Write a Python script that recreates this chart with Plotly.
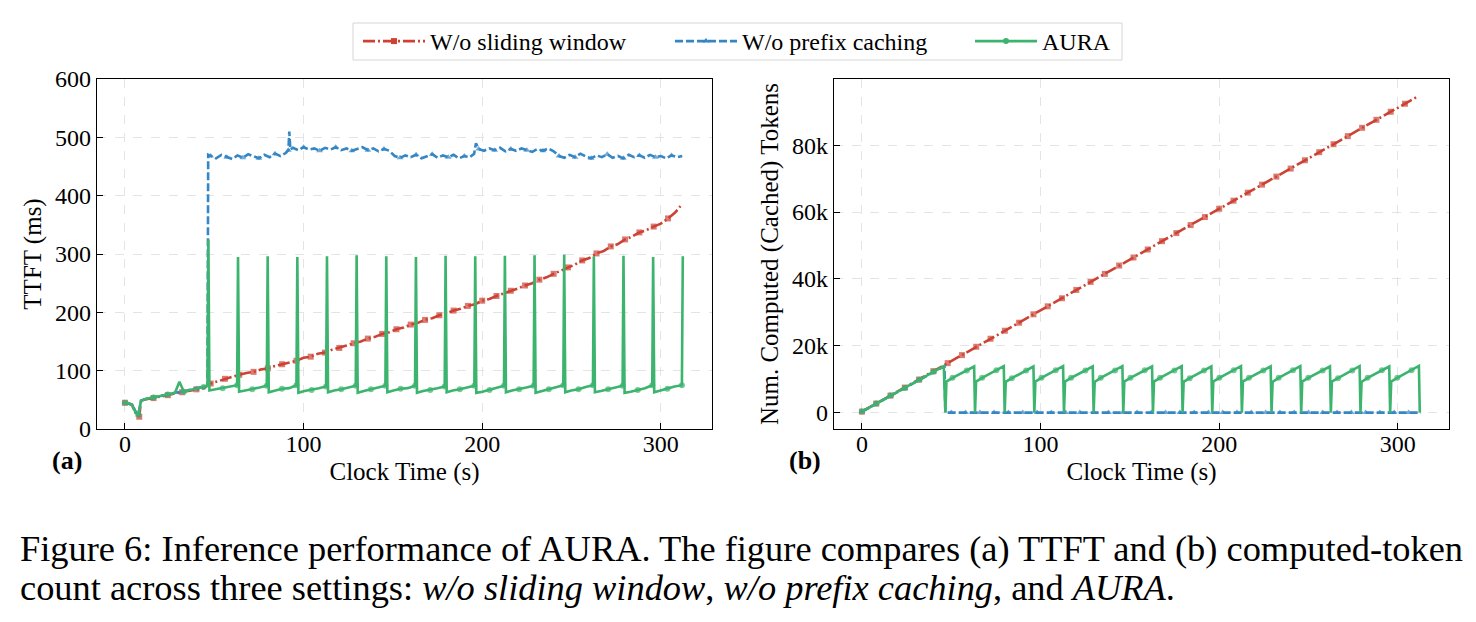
import plotly.graph_objects as go

# ---------------- data ----------------
# (a) TTFT (ms)
red_ttft_t = [0, 2, 4, 6, 8, 9, 12, 16, 20, 24, 28, 32, 36, 40, 44, 48, 52, 56, 60, 64, 68, 72, 76, 80,
              84, 88, 92, 96, 100, 104, 108, 112, 116, 120, 124, 128, 132, 136, 140, 144, 148, 152, 156,
              160, 164, 168, 172, 176, 180, 184, 188, 192, 196, 200, 204, 208, 212, 216, 220, 224, 228,
              232, 236, 240, 244, 248, 252, 256, 260, 264, 268, 272, 276, 280, 284, 288, 292, 296, 300,
              304, 308, 311]
red_ttft_v = [45, 44, 41, 27, 21, 49, 51, 53, 56, 58, 61, 63, 66, 68, 70, 78, 82, 86, 90, 93, 96, 98, 102, 104,
              108, 111, 115, 117, 122, 124, 129, 131, 136, 139, 143, 147, 150, 155, 158, 163, 166, 171, 174,
              179, 182, 187, 190, 195, 198, 203, 206, 211, 214, 220, 223, 228, 232, 237, 241, 246, 250,
              256, 260, 266, 271, 277, 282, 289, 293, 301, 305, 313, 317, 325, 330, 337, 341, 347, 352,
              361, 371, 382]

blue_ttft_t = [0, 2, 4, 6, 7.5, 9, 12, 16, 20, 24, 28, 32, 36, 40, 44, 46.2, 46.6,
               48, 51, 54, 57, 60, 63, 66, 69, 72, 75, 78, 81, 84, 87, 90, 91.5, 92, 92.6, 94, 97,
               100, 103, 106, 109, 112, 115, 118, 121, 124, 127, 130, 133, 136, 139, 142, 145, 148,
               151, 154, 157, 160, 163, 166, 169, 172, 175, 178, 181, 184, 187, 190, 193, 195.5, 196.5,
               198, 201, 204, 207, 210, 213, 216, 219, 222, 225, 228, 231, 234, 237, 240, 243, 246,
               249, 252, 255, 258, 261, 264, 267, 270, 273, 276, 279, 282, 285, 288, 291, 294, 297,
               300, 303, 306, 309, 312]
blue_ttft_v = [45, 44, 42, 30, 24, 49, 52, 54, 57, 59, 62, 64, 67, 69, 72, 74, 470,
               468, 464, 470, 466, 463, 469, 465, 471, 467, 464, 470, 466, 472, 468, 473, 478, 510, 479, 482, 478,
               483, 479, 481, 477, 482, 479, 483, 478, 481, 477, 480, 483, 478, 481, 476, 480, 477,
               468, 465, 469, 466, 470, 464, 468, 471, 465, 469, 466, 470, 464, 468, 466, 472, 490,
               480, 477, 481, 478, 482, 476, 480, 477, 481, 478, 475, 480, 477, 481, 476, 468, 465,
               470, 466, 472, 467, 464, 469, 466, 471, 465, 468, 464, 470, 466, 469, 465, 470, 466,
               468, 464, 469, 466, 468]

aura_ttft_t = [0, 2, 4, 6, 7.5, 9, 12, 16, 20, 24, 28, 30.5, 33, 36, 40, 44, 46.2,
               46.7, 47.3, 50.7, 54.7, 58.7, 62.8,
               63.3, 63.9, 67.3, 71.3, 75.3, 79.4,
               79.9, 80.5, 83.9, 87.9, 91.9, 96.0,
               96.5, 97.1, 100.5, 104.5, 108.5, 112.6,
               113.1, 113.7, 117.1, 121.1, 125.1, 129.2,
               129.7, 130.3, 133.7, 137.7, 141.7, 145.8,
               146.3, 146.9, 150.3, 154.3, 158.3, 162.4,
               162.9, 163.5, 166.9, 170.9, 174.9, 179.0,
               179.5, 180.1, 183.5, 187.5, 191.5, 195.6,
               196.1, 196.7, 200.1, 204.1, 208.1, 212.2,
               212.7, 213.3, 216.7, 220.7, 224.7, 228.8,
               229.3, 229.9, 233.3, 237.3, 241.3, 245.4,
               245.9, 246.5, 249.9, 253.9, 257.9, 262.0,
               262.5, 263.1, 266.5, 270.5, 274.5, 278.6,
               279.1, 279.7, 283.1, 287.1, 291.1, 295.2,
               295.7, 296.3, 299.7, 303.7, 307.7, 311.8,
               312.3]
aura_ttft_v = [45, 44, 41, 28, 25, 48, 52, 54, 57, 59, 62, 81, 64, 67, 69, 72, 74,
               325, 66, 68, 70, 72, 75,
               295, 64, 66, 68, 71, 74,
               296, 63, 66, 69, 70, 75,
               295, 62, 65, 67, 70, 73,
               296, 63, 66, 68, 71, 74,
               298, 62, 65, 68, 70, 74,
               296, 63, 66, 69, 70, 74,
               295, 62, 65, 67, 70, 73,
               297, 63, 66, 68, 71, 74,
               296, 62, 64, 67, 70, 74,
               297, 63, 66, 68, 71, 74,
               298, 62, 65, 68, 71, 75,
               299, 63, 66, 68, 72, 75,
               296, 63, 65, 68, 71, 74,
               297, 62, 64, 67, 70, 75,
               295, 63, 66, 69, 73, 75,
               296]

# (b) Num. computed (cached) tokens
red_tok_t = [0, 8, 16, 24, 32, 40, 48, 56, 64, 72, 80, 88, 96, 104, 112, 120, 128, 136, 144, 152,
             160, 168, 176, 184, 192, 200, 208, 216, 224, 232, 240, 248, 256, 264, 272, 280, 288,
             296, 304, 311]
red_tok_v = [300, 2700, 5100, 7500, 9900, 12400, 14800, 17200, 19700, 22100, 24500, 26900, 29400,
             31800, 34200, 36700, 39100, 41500, 44000, 46400, 48800, 51300, 53700, 56100, 58500,
             61000, 63400, 65800, 68200, 70600, 73000, 75500, 77900, 80300, 82700, 85200, 87600,
             90000, 92400, 94500]

blue_tok_t = [0, 4, 8, 12, 16, 20, 24, 28, 32, 36, 40, 44, 46.2, 46.7,
              50, 54, 58, 62, 66, 70, 74, 78, 82, 86, 90, 94, 98, 102, 106, 110, 114, 118, 122,
              126, 130, 134, 138, 142, 146, 150, 154, 158, 162, 166, 170, 174, 178, 182, 186, 190,
              194, 198, 202, 206, 210, 214, 218, 222, 226, 230, 234, 238, 242, 246, 250, 254, 258,
              262, 266, 270, 274, 278, 282, 286, 290, 294, 298, 302, 306, 310, 313]
blue_tok_v = [300, 1500, 2700, 3900, 5100, 6300, 7400, 8600, 9800, 11000, 12200, 13400, 13900, 0,
              0, 0, 0, 0, 0, 0, 0, 0, 0, 0, 0, 0, 0, 0, 0, 0, 0, 0, 0,
              0, 0, 0, 0, 0, 0, 0, 0, 0, 0, 0, 0, 0, 0, 0, 0, 0,
              0, 0, 0, 0, 0, 0, 0, 0, 0, 0, 0, 0, 0, 0, 0, 0, 0,
              0, 0, 0, 0, 0, 0, 0, 0, 0, 0, 0, 0, 0, 0]

aura_tok_t = [0, 4, 8, 12, 16, 20, 24, 28, 32, 36, 40, 44, 45.8,
              46.7, 47.3, 50.7, 54.7, 58.7, 62.8,
              63.3, 63.9, 67.3, 71.3, 75.3, 79.4,
              79.9, 80.5, 83.9, 87.9, 91.9, 96.0,
              96.5, 97.1, 100.5, 104.5, 108.5, 112.6,
              113.1, 113.7, 117.1, 121.1, 125.1, 129.2,
              129.7, 130.3, 133.7, 137.7, 141.7, 145.8,
              146.3, 146.9, 150.3, 154.3, 158.3, 162.4,
              162.9, 163.5, 166.9, 170.9, 174.9, 179.0,
              179.5, 180.1, 183.5, 187.5, 191.5, 195.6,
              196.1, 196.7, 200.1, 204.1, 208.1, 212.2,
              212.7, 213.3, 216.7, 220.7, 224.7, 228.8,
              229.3, 229.9, 233.3, 237.3, 241.3, 245.4,
              245.9, 246.5, 249.9, 253.9, 257.9, 262.0,
              262.5, 263.1, 266.5, 270.5, 274.5, 278.6,
              279.1, 279.7, 283.1, 287.1, 291.1, 295.2,
              295.7, 296.3, 299.7, 303.7, 307.7, 311.8,
              312.3]
aura_tok_v = [300, 1500, 2700, 3900, 5100, 6300, 7400, 8600, 9800, 11000, 12200, 13400, 13900,
              0, 9300, 10400, 11500, 12600, 13800,
              0, 9300, 10400, 11500, 12700, 13900,
              0, 9200, 10300, 11500, 12600, 13800,
              0, 9300, 10400, 11600, 12700, 13900,
              0, 9300, 10400, 11500, 12600, 13800,
              0, 9200, 10400, 11500, 12600, 13900,
              0, 9300, 10400, 11500, 12700, 13800,
              0, 9300, 10400, 11600, 12600, 13900,
              0, 9200, 10300, 11500, 12600, 13800,
              0, 9300, 10400, 11500, 12700, 13900,
              0, 9300, 10400, 11500, 12600, 13800,
              0, 9200, 10400, 11600, 12700, 13900,
              0, 9300, 10400, 11500, 12600, 13800,
              0, 9300, 10300, 11500, 12600, 13900,
              0, 9200, 10400, 11500, 12700, 13800,
              0, 9300, 10400, 11600, 12700, 14000,
              0]

x_ticks = [0, 100, 200, 300]
ttft_ticks = [0, 100, 200, 300, 400, 500, 600]
tok_ticks = [0, 20000, 40000, 60000, 80000]
tok_tick_text = ["0", "20k", "40k", "60k", "80k"]

names = ["W/o sliding window", "W/o prefix caching", "AURA"]
caption_1 = "Figure 6: Inference performance of AURA. The figure compares (a) TTFT and (b) computed-token"
caption_2 = ("count across three settings: <i>w/o sliding window</i>, <i>w/o prefix caching</i>, "
             "and <i>AURA</i>.")

# ---------------- style ----------------
RED = "#cc4233"
BLUE = "#3586c5"
GREEN = "#3cb46e"
FONT = "Liberation Serif"
W, H = 1476, 622
RED_DASH = "12px,3px,2px,3px"
BLUE_DASH = "8px,3px"


def sparse_sizes(ts, every_t, size, start=0.0):
    """Show a marker roughly every `every_t` seconds (markevery-like)."""
    out, nxt = [], start
    for t in ts:
        if t >= nxt - 1e-9:
            out.append(size)
            nxt = t + every_t
        else:
            out.append(0)
    return out


fig = go.Figure()


def add(x, y, color, dash, symbol, msize, name, xa, ya):
    fig.add_trace(go.Scatter(
        x=x, y=y, mode="lines+markers", name=name, showlegend=False,
        line=dict(color=color, width=2.6, dash=dash),
        marker=dict(color=color, symbol=symbol, size=sparse_sizes(x, 7.5, msize), line=dict(width=0)),
        xaxis=xa, yaxis=ya))


# panel (a)
add(red_ttft_t, red_ttft_v, RED, RED_DASH, "square", 6, names[0], "x", "y")
add(blue_ttft_t, blue_ttft_v, BLUE, BLUE_DASH, "triangle-up", 6, names[1], "x", "y")
add(aura_ttft_t, aura_ttft_v, GREEN, "solid", "circle", 6, names[2], "x", "y")
# panel (b)
add(red_tok_t, red_tok_v, RED, RED_DASH, "square", 6, names[0], "x2", "y2")
add(blue_tok_t, blue_tok_v, BLUE, BLUE_DASH, "triangle-up", 6, names[1], "x2", "y2")
add(aura_tok_t, aura_tok_v, GREEN, "solid", "circle", 6, names[2], "x2", "y2")

# legend entries (one per setting, each in its own positioned legend)
for name, color, dash, symbol, lg in [
        (names[0], RED, RED_DASH, "square", "legend"),
        (names[1], BLUE, BLUE_DASH, "triangle-up", "legend2"),
        (names[2], GREEN, "solid", "circle", "legend3")]:
    fig.add_trace(go.Scatter(
        x=[None], y=[None], mode="lines+markers", name=name, showlegend=True, legend=lg,
        line=dict(color=color, width=2.6, dash=dash),
        marker=dict(color=color, symbol=symbol, size=6, line=dict(width=0)),
        xaxis="x", yaxis="y"))

ax_common = dict(
    showline=True, linecolor="black", linewidth=1.3, mirror=True,
    ticks="inside", ticklen=6, tickwidth=1.2, tickcolor="black",
    showgrid=True, gridcolor="#e4e4e4", gridwidth=0.8, griddash="dash",
    zeroline=False, automargin=False, tickfont=dict(family=FONT, size=24, color="black"),
)
title_font = dict(family=FONT, size=25, color="black")

x0a, x1a = 97 / W, 712 / W
x0b, x1b = 834 / W, 1449 / W
y0, y1 = 1 - 429 / H, 1 - 79 / H


def leg(xpx):
    return dict(x=(xpx - 5) / W, xanchor="left", y=1 - 41.5 / H, yanchor="middle",
                orientation="h", borderwidth=0, bgcolor="rgba(0,0,0,0)",
                font=dict(family=FONT, size=24, color="black"), itemwidth=62)


fig.update_layout(
    width=W, height=H, autosize=False,
    margin=dict(l=0, r=0, t=0, b=0, autoexpand=False),
    paper_bgcolor="white", plot_bgcolor="white",
    font=dict(family=FONT, color="black"),
    xaxis=dict(domain=[x0a, x1a], range=[-15.65, 328.65], tickvals=x_ticks, anchor="y",
               ticklabelstandoff=-7,
               title=dict(text="Clock Time (s)", font=title_font, standoff=6), **ax_common),
    yaxis=dict(domain=[y0, y1], range=[0, 600], tickvals=ttft_ticks, anchor="x",
               title=dict(text="TTFT (ms)", font=title_font, standoff=6), **ax_common),
    xaxis2=dict(domain=[x0b, x1b], range=[-15.65, 328.65], tickvals=x_ticks, anchor="y2",
                ticklabelstandoff=-7,
                title=dict(text="Clock Time (s)", font=title_font, standoff=6), **ax_common),
    yaxis2=dict(domain=[y0, y1], range=[-4900, 99800], tickvals=tok_ticks, ticktext=tok_tick_text,
                anchor="x2",
                title=dict(text="Num. Computed (Cached) Tokens", font=title_font, standoff=6),
                **ax_common),
    legend=leg(363), legend2=leg(675), legend3=leg(975),
    shapes=[dict(type="rect", xref="paper", yref="paper", x0=353 / W, x1=1122 / W,
                 y0=1 - 60 / H, y1=1 - 23 / H, line=dict(color="#d6d6d6", width=1), layer="below")],
)

fig.add_annotation(text="<b>(a)</b>", x=67 / W, y=1 - 460 / H, xref="paper", yref="paper",
                   xanchor="center", yanchor="middle",
                   showarrow=False, font=dict(family=FONT, size=26, color="black"))
fig.add_annotation(text="<b>(b)</b>", x=805 / W, y=1 - 460 / H, xref="paper", yref="paper",
                   xanchor="center", yanchor="middle",
                   showarrow=False, font=dict(family=FONT, size=26, color="black"))
fig.add_annotation(text=caption_1, x=18 / W, y=1 - 549 / H, xref="paper", yref="paper",
                   xanchor="left", yanchor="middle", showarrow=False,
                   font=dict(family=FONT, size=36.4, color="black"))
fig.add_annotation(text=caption_2, x=18 / W, y=1 - 588 / H, xref="paper", yref="paper",
                   xanchor="left", yanchor="middle", showarrow=False,
                   font=dict(family=FONT, size=36.4, color="black"))

fig.write_html("out.html")
